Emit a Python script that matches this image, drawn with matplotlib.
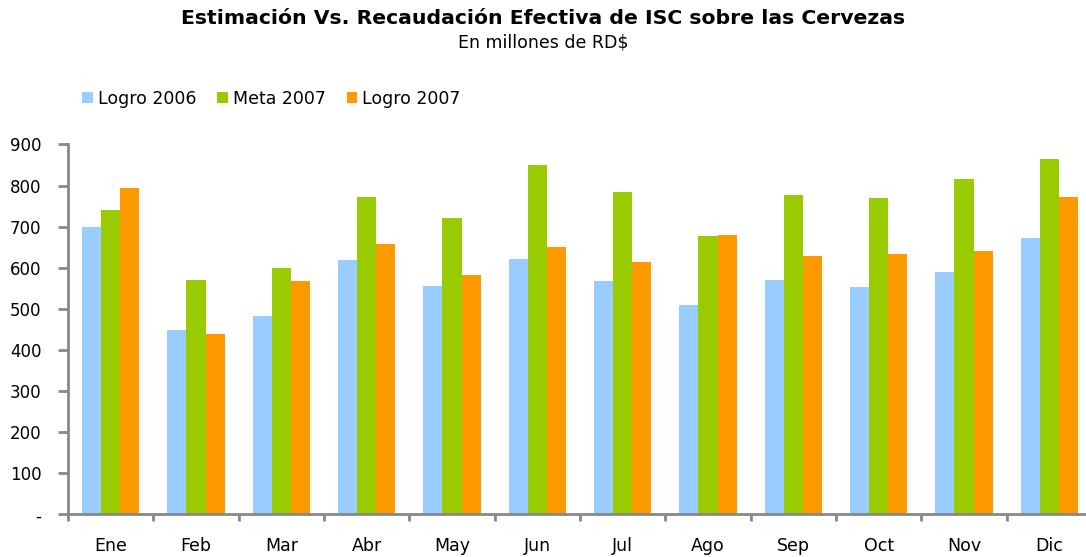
import matplotlib.pyplot as plt
import numpy as np

meses = ["Ene", "Feb", "Mar", "Abr", "May", "Jun",
         "Jul", "Ago", "Sep", "Oct", "Nov", "Dic"]
logro_2006 = [700, 448, 482, 618, 555, 620, 567, 509, 570, 553, 589, 672]
meta_2007 = [740, 570, 599, 771, 720, 849, 784, 677, 776, 769, 815, 864]
logro_2007 = [793, 438, 567, 657, 582, 650, 614, 679, 628, 633, 640, 771]

series = [("Logro 2006", logro_2006, "#99CCFF"),
          ("Meta 2007", meta_2007, "#99CC00"),
          ("Logro 2007", logro_2007, "#FF9900")]

plt.rcParams['font.family'] = ['DejaVu Sans']

fig = plt.figure(figsize=(10.86, 5.57), dpi=100)
ax = fig.add_axes([0.0626, 0.0767, 0.9429, 0.664])

x = np.arange(len(meses))
w = 0.225
for i, (nombre, vals, color) in enumerate(series):
    ax.bar(x + (i - 1) * w, vals, width=w, color=color, label=nombre)

ax.set_xlim(-0.5, len(meses) - 0.5)
ax.set_ylim(0, 900)
ax.set_yticks(range(0, 901, 100))
ax.set_yticklabels(["-"] + [str(v) for v in range(100, 901, 100)], fontsize=12)

# ticks between months, labels at the centres
ax.set_xticks(np.arange(-0.5, len(meses), 1.0))
ax.set_xticklabels([])
ax.set_xticks(x, minor=True)
ax.set_xticklabels(meses, minor=True, fontsize=12.5)
ax.tick_params(axis='x', which='minor', length=0, pad=16)
ax.tick_params(axis='x', which='major', length=5, width=2, color='#888888')
ax.tick_params(axis='y', length=7, width=2, color='#888888', pad=12)

for s in ['top', 'right']:
    ax.spines[s].set_visible(False)
for s in ['left', 'bottom']:
    ax.spines[s].set_color('#888888')
    ax.spines[s].set_linewidth(2)

fig.text(0.5, 0.966, "Estimación Vs. Recaudación Efectiva de ISC sobre las Cervezas",
         ha='center', va='center', fontsize=14.7, fontweight='bold')
fig.text(0.5, 0.923, "En millones de RD$", ha='center', va='center', fontsize=12.5)

ax.legend(loc='center left', bbox_to_anchor=(0.014, 1.124), ncol=3, frameon=False,
          fontsize=12.5, handlelength=0.6, handleheight=0.6, handletextpad=0.3,
          columnspacing=1.2, borderaxespad=0, borderpad=0)

fig.savefig("out.png", dpi=100)
